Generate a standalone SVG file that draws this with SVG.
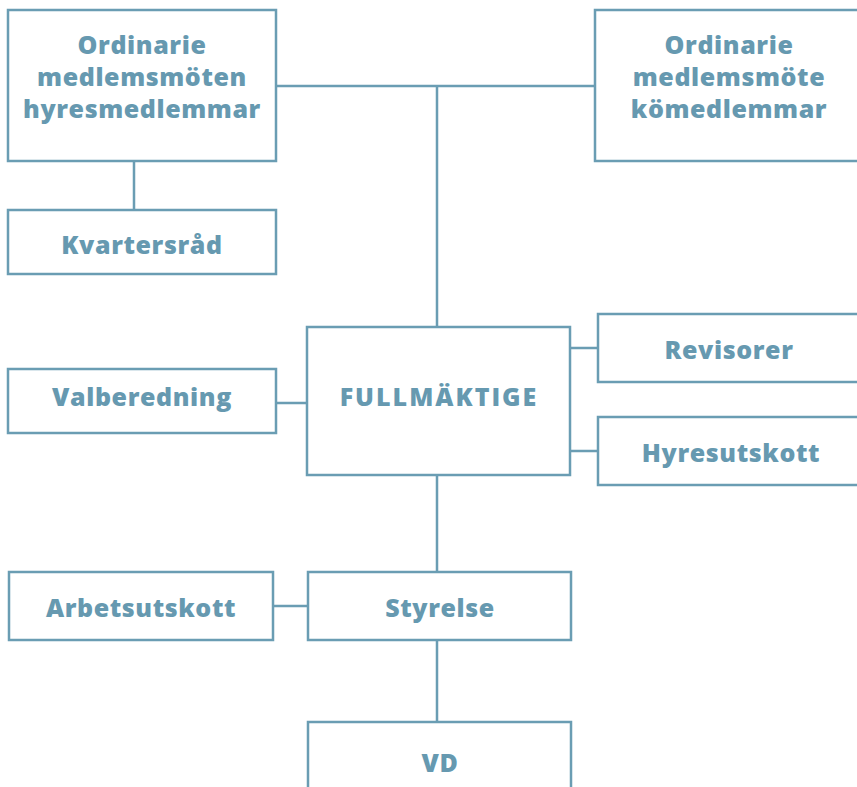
<svg xmlns="http://www.w3.org/2000/svg" width="857" height="787" viewBox="0 0 857 787">
<style>
.box{fill:#fff;stroke:#6a9db3;stroke-width:2.5}
.ln{stroke:#6a9db3;stroke-width:2.5;fill:none}
.t{font-family:"Open Sans","Liberation Sans",sans-serif;font-weight:800;font-size:25px;letter-spacing:0.6px;fill:#6699b0;text-anchor:middle}
.caps{letter-spacing:2px}
</style>
<rect width="857" height="787" fill="#fff"/>
<g id="connectors">
<path class="ln" d="M276 86H595M437 86V327M134 161V210M570 348H598M570 451H598M276 403H307M273 606H308M437 475V572M437 640V722"/>
</g>
<g id="n-hyres"><rect class="box" x="8" y="10" width="268" height="151"/><text class="t" x="142" y="54">Ordinarie</text><text class="t" x="142" y="86">medlemsmöten</text><text class="t" x="142" y="118">hyresmedlemmar</text></g>
<g id="n-ko"><rect class="box" x="595" y="10" width="270" height="151"/><text class="t" x="729" y="54">Ordinarie</text><text class="t" x="729" y="86">medlemsmöte</text><text class="t" x="729" y="118">kömedlemmar</text></g>
<g id="n-kvarter"><rect class="box" x="8" y="210" width="268" height="64"/><text class="t" x="142" y="254">Kvartersråd</text></g>
<g id="n-valb"><rect class="box" x="8" y="369" width="268" height="64"/><text class="t" x="142" y="406">Valberedning</text></g>
<g id="n-full"><rect class="box" x="307" y="327" width="263" height="148"/><text class="t caps" x="439" y="406">FULLMÄKTIGE</text></g>
<g id="n-rev"><rect class="box" x="598" y="314" width="270" height="68"/><text class="t" x="729" y="359">Revisorer</text></g>
<g id="n-hyresutskott"><rect class="box" x="598" y="417" width="270" height="68"/><text class="t" x="731" y="462">Hyresutskott</text></g>
<g id="n-arb"><rect class="box" x="9" y="572" width="264" height="68"/><text class="t" x="141" y="617">Arbetsutskott</text></g>
<g id="n-styr"><rect class="box" x="308" y="572" width="263" height="68"/><text class="t" x="440" y="617">Styrelse</text></g>
<g id="n-vd"><rect class="box" x="308" y="722" width="263" height="80"/><text class="t" x="440" y="772">VD</text></g>
</svg>
